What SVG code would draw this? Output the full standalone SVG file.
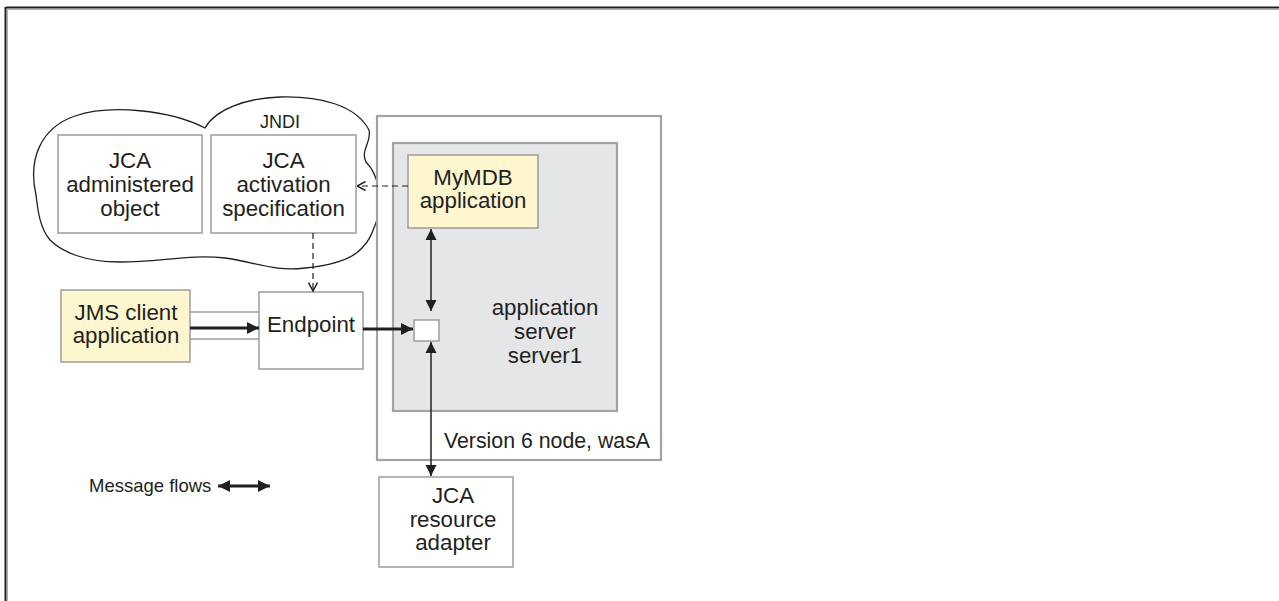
<svg xmlns="http://www.w3.org/2000/svg" width="1279" height="601" viewBox="0 0 1279 601">
<style>
.t{font-family:"Liberation Sans",Arial,sans-serif;font-size:22.3px;fill:#231f20;text-anchor:middle}
.box{fill:#fff;stroke:#9d9d9d;stroke-width:1.5}
.yel{fill:#fdf6cf;stroke:#9d9d9d;stroke-width:1.5}
.ln{stroke:#231f20;stroke-width:1.5;fill:none}
.thick{stroke:#231f20;stroke-width:3;fill:none}
.dash{stroke:#231f20;stroke-width:1.2;fill:none;stroke-dasharray:6 4}
</style>
<defs>
<marker id="ah" viewBox="0 0 10 10" refX="10" refY="5" markerWidth="11" markerHeight="12" markerUnits="userSpaceOnUse" orient="auto-start-reverse">
<path d="M0,0 L10,5 L0,10 Z" fill="#231f20"/>
</marker>
<marker id="ahb" viewBox="0 0 10 10" refX="10" refY="5" markerWidth="12" markerHeight="12" markerUnits="userSpaceOnUse" orient="auto-start-reverse">
<path d="M0,0 L10,5 L0,10 Z" fill="#231f20"/>
</marker>
<marker id="open" viewBox="0 0 10 10" refX="9.5" refY="5" markerWidth="10" markerHeight="10" markerUnits="userSpaceOnUse" orient="auto">
<path d="M1,0.5 L9.5,5 L1,9.5" fill="none" stroke="#231f20" stroke-width="1.5"/>
</marker>
</defs>
<rect width="1279" height="601" fill="#fff"/>
<g id="frame">
<line x1="6" y1="7.5" x2="1279" y2="7.5" stroke="#231f20" stroke-width="2"/>
<line x1="7" y1="9.5" x2="1279" y2="9.5" stroke="#b0b0b0" stroke-width="1"/>
<line x1="5.5" y1="7" x2="5.5" y2="601" stroke="#231f20" stroke-width="2"/>
<line x1="7.5" y1="9" x2="7.5" y2="601" stroke="#b0b0b0" stroke-width="1"/>
</g>
<g id="jndi">
<path d="M36,195 C28,160 40,128 75,116 C110,104 170,110 205,128 C215,110 245,98 280,97 C320,96 356,105 369,130 C372,142 360,150 366,162 C378,174 384,200 377,220 C372,233 370,240 362,248 C350,262 325,266 305,268 C275,272 255,262 225,258 C190,254 160,262 120,262 C85,262 62,252 50,240 C40,228 38,212 36,195 Z" fill="#fff" stroke="#231f20" stroke-width="1.3"/>
<text class="t" x="280" y="128" style="font-size:18px">JNDI</text>
</g>
<g id="node-wasA">
<rect x="377" y="116" width="284" height="344" fill="#fff" stroke="#a3a3a3" stroke-width="2.2"/>
<text class="t" x="444" y="448" style="text-anchor:start;font-size:21.3px">Version 6 node, wasA</text>
</g>
<g id="server1">
<rect x="393" y="143" width="224" height="268" fill="#e5e6e8" stroke="#a3a3a3" stroke-width="2.2"/>
<text class="t" x="545" y="315">application</text>
<text class="t" x="545" y="339">server</text>
<text class="t" x="545" y="363">server1</text>
</g>
<g id="jca-admin">
<rect class="box" x="58" y="135" width="144" height="98"/>
<text class="t" x="130" y="168">JCA</text>
<text class="t" x="130" y="192">administered</text>
<text class="t" x="130" y="216">object</text>
</g>
<g id="jca-actspec">
<rect class="box" x="211" y="135" width="145" height="98"/>
<text class="t" x="283.5" y="168">JCA</text>
<text class="t" x="283.5" y="192">activation</text>
<text class="t" x="283.5" y="216">specification</text>
</g>
<g id="mymdb">
<rect class="yel" x="408" y="155" width="130" height="73"/>
<text class="t" x="473" y="185">MyMDB</text>
<text class="t" x="473" y="208">application</text>
</g>
<g id="port">
<rect x="414" y="320" width="25" height="21" fill="#fff" stroke="#9d9d9d" stroke-width="1.5"/>
</g>
<g id="jms-client">
<rect class="yel" x="61" y="290" width="129" height="72"/>
<text class="t" x="126" y="320">JMS client</text>
<text class="t" x="126" y="343">application</text>
</g>
<g id="endpoint">
<rect class="box" x="259" y="292" width="104" height="77"/>
<text class="t" x="311" y="332">Endpoint</text>
</g>
<g id="resource-adapter">
<rect class="box" x="379" y="477" width="134" height="90"/>
<text class="t" x="453" y="503">JCA</text>
<text class="t" x="453" y="527">resource</text>
<text class="t" x="453" y="550">adapter</text>
</g>
<g id="legend">
<text class="t" x="89" y="492" style="text-anchor:start;font-size:18.5px">Message flows</text>
<line class="thick" x1="218" y1="486" x2="270" y2="486" marker-start="url(#ahb)" marker-end="url(#ahb)"/>
</g>
<g id="connectors">
<line x1="190" y1="312" x2="259" y2="312" stroke="#9d9d9d" stroke-width="1.5"/>
<line x1="190" y1="339" x2="259" y2="339" stroke="#9d9d9d" stroke-width="1.5"/>
<line class="thick" x1="190" y1="328" x2="259" y2="328" marker-end="url(#ahb)"/>
<line class="thick" x1="363" y1="329" x2="413" y2="329" marker-end="url(#ahb)"/>
<line class="ln" x1="431" y1="229" x2="431" y2="311" marker-start="url(#ah)" marker-end="url(#ah)"/>
<line class="ln" x1="431" y1="342" x2="431" y2="476" marker-start="url(#ah)" marker-end="url(#ah)"/>
<line class="dash" x1="313" y1="233" x2="313" y2="291" marker-end="url(#open)"/>
<line class="dash" x1="408" y1="186" x2="357" y2="186" marker-end="url(#open)"/>
</g>
</svg>
